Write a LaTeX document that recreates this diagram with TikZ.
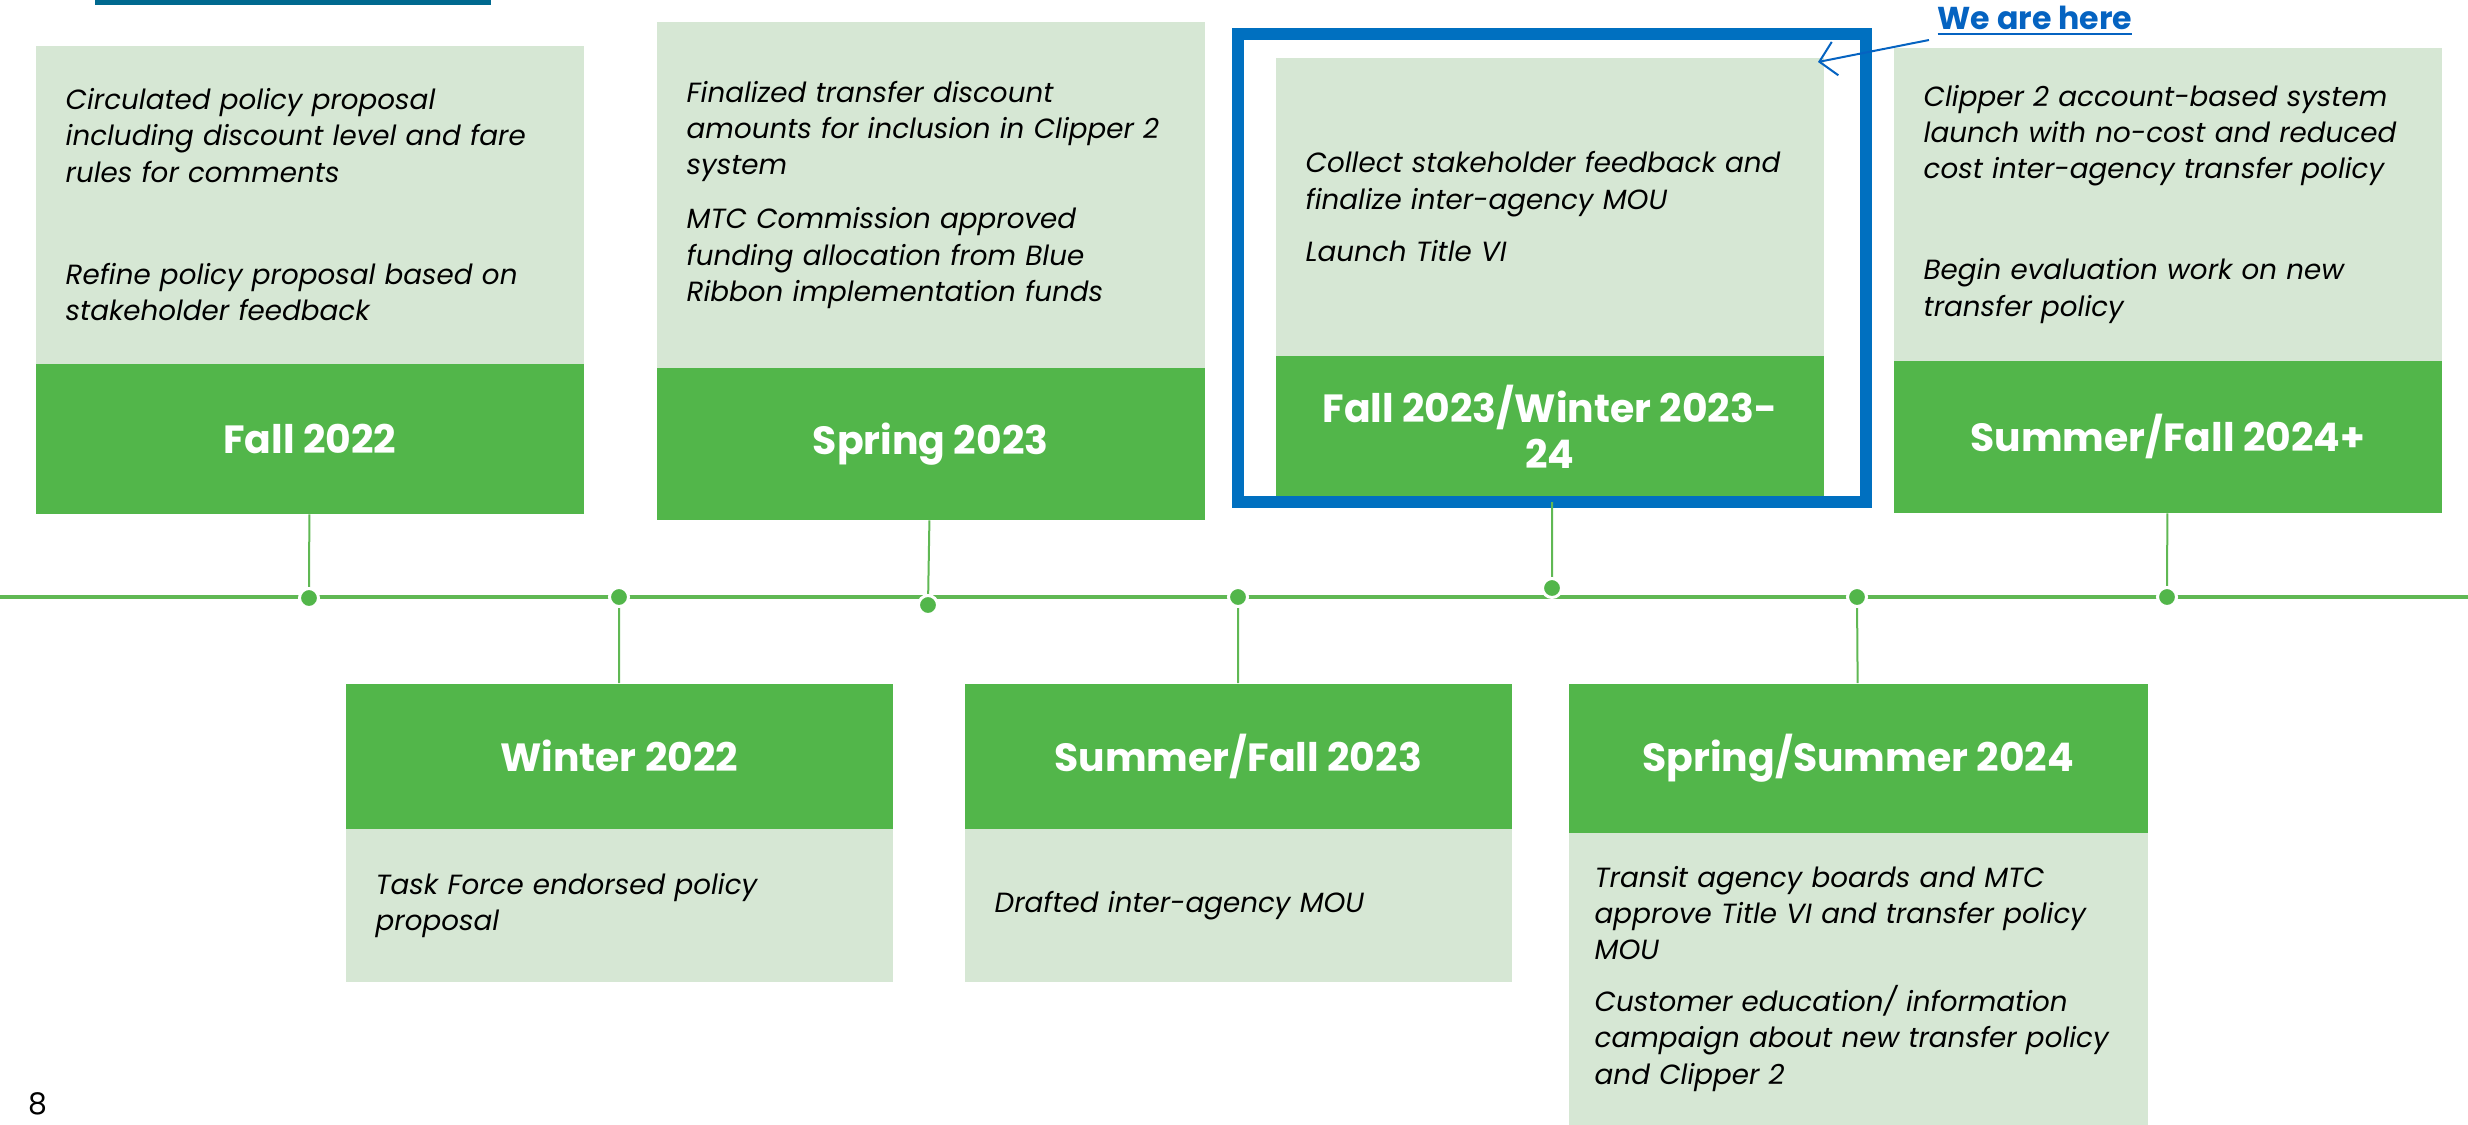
\documentclass[tikz,border=0pt]{standalone}
\usepackage{fontspec}
\setmainfont{Poppins}
\usepackage{xcolor}
\usepackage{tikz}
\usetikzlibrary{arrows.meta}
\usetikzlibrary{positioning}

\definecolor{yeargreen}{RGB}{82,182,74}
\definecolor{notegreen}{RGB}{214,231,212}
\definecolor{linegreen}{RGB}{96,184,84}
\definecolor{frameblue}{RGB}{0,112,192}
\definecolor{linkblue}{RGB}{5,99,193}
\definecolor{tealbar}{RGB}{0,105,143}

\tikzset{
  milestone/.style 2 args={fill=notegreen, anchor=north west, inner xsep=3mm, inner ysep=0pt,
    text width=#1, minimum height=#2, align=left, font=\itshape\fontsize{7.9}{10.3}\selectfont},
  period/.style 2 args={fill=yeargreen, anchor=north west, inner sep=0pt, minimum width=#1,
    minimum height=#2, align=center, text=white, font=\bfseries\fontsize{11.2}{13}\selectfont},
  stopdot/.style={circle, fill=yeargreen, draw=white, line width=0.3mm, inner sep=0pt, minimum size=1.9mm},
  stem/.style={linegreen, line width=0.2mm},
}

\begin{document}
\begin{tikzpicture}[x=0.1mm,y=-0.1mm]
  \useasboundingbox (0,0) rectangle (2468,1124);
  \fill[tealbar] (95,0) rectangle (491,5);

  % upper row
  \node[milestone={48.8mm}{31.8mm}] (f22note) at (35,45)
    {Circulated policy proposal\\ including discount level and fare\\ rules for comments\\[6.6mm]
     Refine policy proposal based on\\ stakeholder feedback};
  \node[period={54.8mm}{15mm}] (f22) at (35,363) {Fall 2022};

  \node[milestone={48.8mm}{34.6mm}] (s23note) at (656,21)
    {Finalized transfer discount\\ amounts for inclusion in Clipper 2\\ system\\[1.8mm]
     MTC Commission approved\\ funding allocation from Blue\\ Ribbon implementation funds};
  \node[period={54.8mm}{15.2mm}] (s23) at (656,367) {Spring 2023};

  \node[milestone={48.8mm}{29.8mm}] (f23note) at (1275,57)
    {Collect stakeholder feedback and\\ finalize inter-agency MOU\\[1.6mm] Launch Title VI};
  \node[period={54.8mm}{14.2mm}] (f23) at (1275,355) {Fall 2023/Winter 2023-\\24};
  \node[draw=frameblue, line width=1.2mm, anchor=north west, inner sep=0pt, outer sep=0pt,
    minimum width=62.8mm, minimum height=46.8mm] (nowframe) at (1238,34) {};

  \node[milestone={48.8mm}{31.3mm}] (sf24note) at (1893,47)
    {Clipper 2 account-based system\\ launch with no-cost and reduced\\ cost inter-agency transfer policy\\[6.5mm]
     Begin evaluation work on new\\ transfer policy};
  \node[period={54.8mm}{15.2mm}] (sf24) at (1893,360) {Summer/Fall 2024+};

  % lower row
  \node[period={54.7mm}{14.5mm}] (w22) at (345,683) {Winter 2022};
  \node[milestone={48.7mm}{15.3mm}] (w22note) at (345,828)
    {Task Force endorsed policy\\ proposal};

  \node[period={54.7mm}{14.5mm}] (sf23) at (964,683) {Summer/Fall 2023};
  \node[milestone={48.7mm}{15.3mm}] (sf23note) at (964,828) {Drafted inter-agency MOU};

  \node[period={57.9mm}{14.9mm}] (ss24) at (1568,683) {Spring/Summer 2024};
  \node[milestone={52.7mm}{29.2mm}, inner xsep=2.6mm] (ss24note) at (1568,832)
    {Transit agency boards and MTC\\ approve Title VI and transfer policy\\ MOU\\[1.6mm]
     Customer education/ information\\ campaign about new transfer policy\\ and Clipper 2};

  % timeline
  \foreach \x/\y [count=\i] in {309/598,619/597,928/605,1238/597,1552/588,1857/597,2167/597}
    \coordinate (p\i) at (\x,\y);
  \draw[linegreen, line width=0.4mm] (0,597) -- (2468,597);
  \draw[stem] (f22) -- (p1);
  \draw[stem] (w22) -- (p2);
  \draw[stem] (s23) -- (p3);
  \draw[stem] (sf23) -- (p4);
  \draw[stem] (nowframe) -- (p5);
  \draw[stem] (ss24) -- (p6);
  \draw[stem] (sf24) -- (p7);
  \foreach \i in {1,...,7}
    \node[stopdot] (dot\i) at (p\i) {};

  % pointer
  \node[anchor=base west, inner sep=0pt, text=linkblue, font=\bfseries\fontsize{9}{11}\selectfont]
    (herelabel) at (1937,29) {\underline{We are here}};
  \coordinate (pointer) at (1818,62);
  \draw[-{Straight Barb[length=1.6mm,width=3.4mm]}, linkblue, line width=0.2mm]
    ([xshift=-0.8mm,yshift=-0.3mm]herelabel.south west) -- (pointer);

  \node[anchor=base west, inner sep=0pt, font=\fontsize{8.5}{10}\selectfont] (pagenum) at (28,1114) {8};
\end{tikzpicture}
\end{document}
